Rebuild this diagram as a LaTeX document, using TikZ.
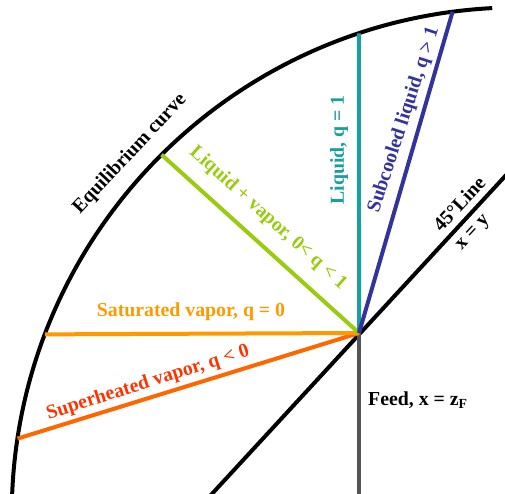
\documentclass[tikz,border=0pt]{standalone}
\usepackage{fontspec}
\setmainfont{Liberation Serif}
\usetikzlibrary{calc}
\definecolor{cteal}{HTML}{1A9E9E}
\definecolor{cblue}{HTML}{33339C}
\definecolor{cgreen}{HTML}{99CC11}
\definecolor{corange}{HTML}{FF9900}
\definecolor{credline}{HTML}{FF6600}
\definecolor{credtext}{HTML}{FF3300}
\definecolor{cgray}{HTML}{555555}
\tikzset{
  qline/.style={line width=4pt},
  lbl/.style={font=\fontsize{19.8}{22}\selectfont\bfseries, inner sep=0pt}
}
\begin{document}
\begin{tikzpicture}[x=1pt,y=1pt]
\useasboundingbox (0,0) rectangle (505,493);
\coordinate (C) at (518.75,-21.4);
\coordinate (F) at (359,160);
\coordinate (Ftop) at ($(C)+(108.37:507)$);
\coordinate (Fblue) at ($(C)+(97.5:507)$);
\coordinate (Fgreen) at ($(C)+(134.8:507)$);
\coordinate (Forange) at ($(C)+(159.2:507)$);
\coordinate (Fred) at ($(C)+(171.4:507)$);
\coordinate (Fbot) at (359,-3);
\coordinate (D1) at (210,-3);
\coordinate (D2) at (508,320);
% equilibrium curve
\draw[line width=4pt] ($(C)+(178:507)$) arc[start angle=178, end angle=93, radius=507];
% 45 degree line
\draw[line width=4pt] (D1) -- (D2);
% feed line
\draw[qline, cgray] (F) -- (Fbot);
% q-lines
\draw[qline, credline] (F) -- (Fred);
\draw[qline, corange] (F) -- (Forange);
\draw[qline, cgreen] (F) -- (Fgreen);
\draw[qline, cteal] (F) -- (Ftop);
\draw[qline, cblue] (F) -- (Fblue);
% labels
\node[lbl, rotate=47] (leq) at (130,339) {Equilibrium curve};
\node[lbl, rotate=90, cteal] (lliq) at (339,343) {Liquid, q = 1};
\node[lbl, rotate=72, cblue] (lsub) at (404,373) {Subcooled liquid, q > 1};
\node[lbl, rotate=-42, cgreen] (lmix) at (268,275) {Liquid + vapor, 0< q < 1};
\node[lbl, corange] (lsat) at (191,181) {Saturated vapor, q = 0};
\node[lbl, rotate=17.5, credtext] (lsup) at (148,110) {Superheated vapor, q < 0};
\node[lbl, rotate=47] (l45) at (459,289) {45°Line};
\node[lbl, rotate=47] (lxy) at (474,259) {x = y};
\node[lbl, anchor=west] (lfeed) at (368,93) {Feed, x = z\textsubscript{F}};
\end{tikzpicture}
\end{document}
